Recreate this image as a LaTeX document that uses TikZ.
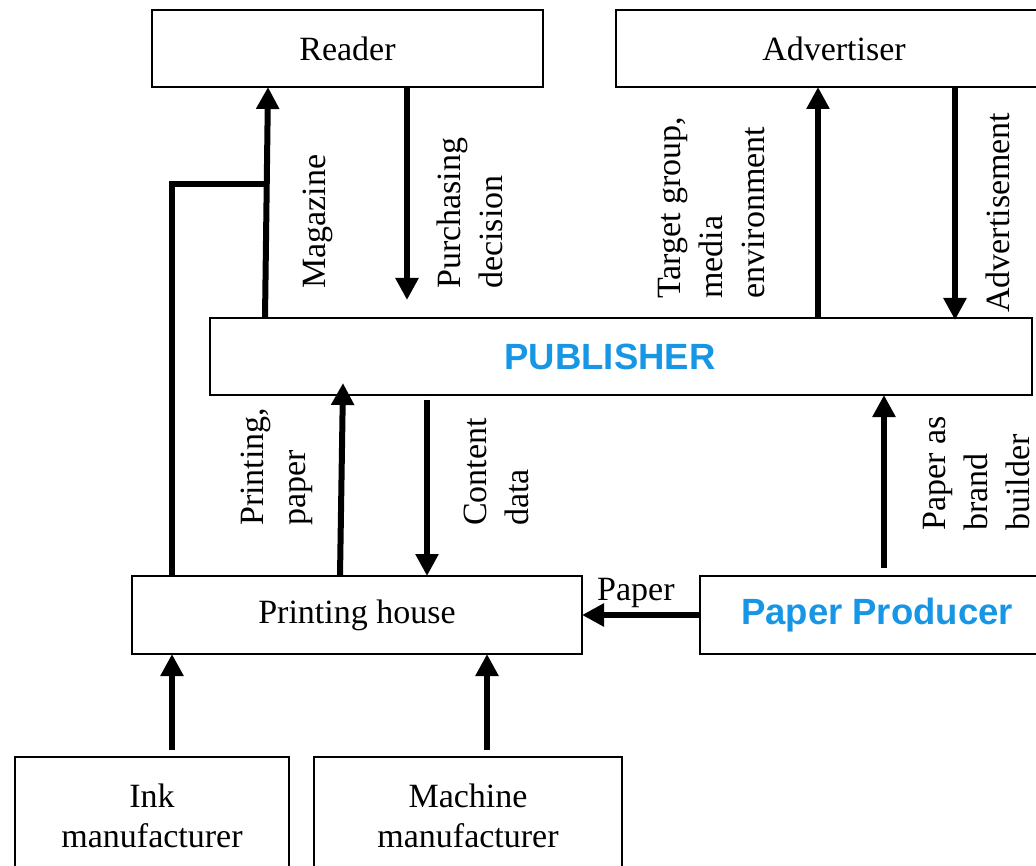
\documentclass[tikz,border=0pt]{standalone}
\usepackage{fontspec}
\setmainfont{Liberation Serif}
\newfontfamily\bluefont{Liberation Sans}
\usetikzlibrary{arrows.meta}
\definecolor{pubblue}{RGB}{22,150,228}
\tikzset{
    box/.style = {draw, line width=2.4pt, inner sep=0pt, outer sep=0pt, align=center,
        font=\fontsize{34}{40}\selectfont},
    bluetext/.style = {text = pubblue, font=\bluefont\bfseries\fontsize{36.5}{42}\selectfont},
    flow/.style = {line width=6pt, -{Triangle[length=22pt,width=22pt]}},
    lbl/.style = {rotate=90, anchor=north west, inner sep=0pt, align=left,
        font=\fontsize{34}{42}\selectfont}
}
\begin{document}
\begin{tikzpicture}[x=1pt, y=-1pt]
        \useasboundingbox (0,0) rectangle (1036,866);
        \clip (0,0) rectangle (1036,866);
        \node[box, minimum width=391pt, minimum height=77pt] (reader) at (347.5,48.5) {Reader};
        \node[box, minimum width=460pt, minimum height=77pt, anchor=west] (adv) at (616,48.5) {};
        \node[font=\fontsize{34}{40}\selectfont] (advtext) at (834,48.5) {Advertiser};
        \node[box, minimum width=822pt, minimum height=77pt] (pub) at (621,356.5) {};
        \node[bluetext] (pubtext) at (610,357) {PUBLISHER};
        \node[box, minimum width=450pt, minimum height=78pt] (print) at (357,615) {Printing house};
        \node[box, minimum width=380pt, minimum height=78pt, anchor=west] (paper) at (700,615) {};
        \node[bluetext] (papertext) at (877,615) {Paper Producer};
        \node[box, minimum width=274pt, minimum height=150pt, anchor=north west, text depth=32pt] (ink) at (15,757) {Ink\\manufacturer};
        \node[box, minimum width=308pt, minimum height=150pt, anchor=north west, text depth=32pt] (machine) at (314,757) {Machine\\manufacturer};

        % free ends
        \coordinate (purch) at (407,300);
        \coordinate (ads) at (955,320);
        \coordinate (content) at (427,400);
        \coordinate (brand) at (884,568);
        \coordinate (inkout) at (172,750);
        \coordinate (machout) at (487,750);
        \coordinate (join) at (266.8,184);

        % Edges
        \draw[flow] ([xshift=55pt]pub.north west) -- ([xshift=116pt]reader.south west);
        \draw[line width=6pt, line join=miter] ([xshift=40pt]print.north west) |- (join);
        \draw[flow] ([xshift=255pt]reader.south west) -- (purch);
        \draw[flow] ([xshift=608pt]pub.north west) -- ([xshift=202pt]adv.south west);
        \draw[flow] ([xshift=339pt]adv.south west) -- (ads);
        \draw[flow] ([xshift=208pt]print.north west) -- ([xshift=133pt,yshift=12pt]pub.south west);
        \draw[flow] (content) -- ([xshift=295pt]print.north west);
        \draw[flow] (brand) -- ([xshift=674pt]pub.south west);
        \draw[flow] (paper.west) -- (print.east);
        \draw[flow] (inkout) -- ([xshift=40pt]print.south west);
        \draw[flow] (machout) -- ([xshift=355pt]print.south west);

        % Labels
        \node[lbl] (lmag) at (303,289) {Magazine};
        \node[lbl] (lpurch) at (437,289) {Purchasing\\decision};
        \node[lbl] (ltarget) at (658,299) {Target group,\\media\\environment};
        \node[lbl] (ladv) at (986,313) {Advertisement};
        \node[lbl] (lprint) at (241,526) {Printing,\\paper};
        \node[lbl] (lcontent) at (464,526) {Content\\data};
        \node[lbl] (lbrand) at (923,531) {Paper as\\brand\\builder};
        \node[anchor=base west, inner sep=0pt, font=\fontsize{34}{40}\selectfont] (lpaper) at (597,600) {Paper};
        \end{tikzpicture}
\end{document}
